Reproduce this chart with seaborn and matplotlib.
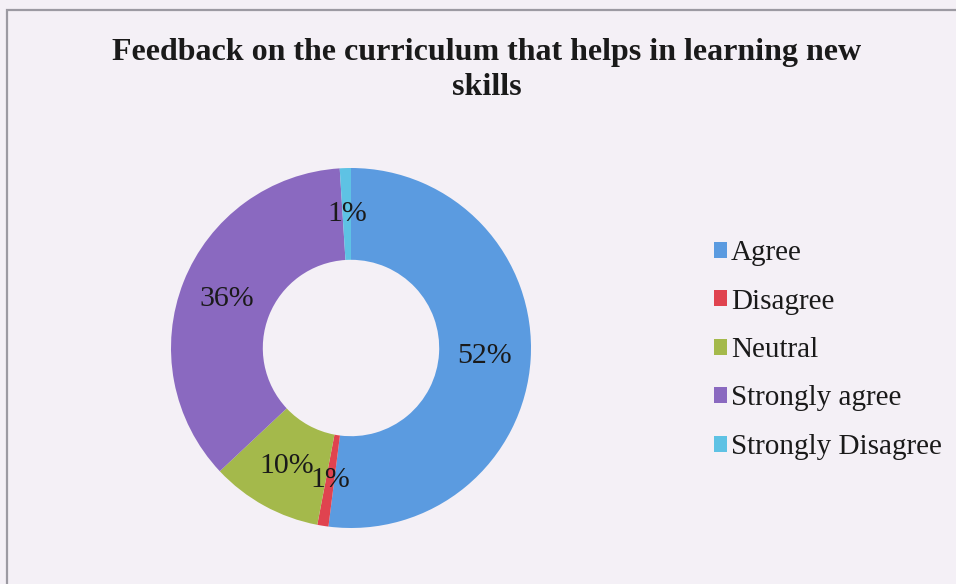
import matplotlib
matplotlib.use("Agg")
import matplotlib.pyplot as plt
from matplotlib.patches import Patch, Rectangle
import seaborn as sns

# Survey responses
categories = ["Agree", "Disagree", "Neutral", "Strongly agree", "Strongly Disagree"]
shares = [52, 1, 10, 36, 1]
colors = ["#5b9be0", "#e0434f", "#a4b94b", "#8a69c0", "#5ec2e4"]
title = "Feedback on the curriculum that helps in learning new\nskills"

sns.set_theme(style="white")
plt.rcParams["font.family"] = ["Liberation Serif", "DejaVu Serif"]

bg = "#f4f0f6"
fig = plt.figure(figsize=(9.56, 5.84), dpi=100, facecolor=bg)

# chart frame
fig.patches.append(Rectangle((7 / 956, -0.1), 1.2, (584 - 10) / 584 + 0.1,
                             transform=fig.transFigure, fill=False,
                             edgecolor="#9c9aa2", linewidth=1.6, zorder=0))

ax = fig.add_axes([171 / 956, 56 / 584, 360 / 956, 360 / 584])
ax.set_facecolor(bg)
palette = sns.color_palette(colors)

wedges, texts, autotexts = ax.pie(
    shares, colors=palette, startangle=90, counterclock=False,
    radius=1.0, autopct=lambda p: f"{p:.0f}%", pctdistance=0.745,
    wedgeprops=dict(width=0.51, linewidth=0),
    textprops=dict(fontsize=21.5, color="#1a1a1a"))
ax.set_xlim(-1, 1)
ax.set_ylim(-1, 1)
ax.set_aspect("equal")
ax.axis("off")

fig.text(487 / 956, 1 - 70 / 584, title, ha="center", va="center",
         fontsize=23, fontweight="bold", color="#1a1a1a", linespacing=1.27)

handles = [Patch(facecolor=c, edgecolor="none") for c in palette]
leg = fig.legend(handles, categories, loc="center left",
                 bbox_to_anchor=(699 / 956, 1 - 350 / 584), frameon=False,
                 fontsize=21, handlelength=0.47, handleheight=0.47,
                 handletextpad=0.12, labelspacing=0.77, borderpad=0)
for t in leg.get_texts():
    t.set_color("#1a1a1a")

fig.savefig("out.png", dpi=100, facecolor=bg)
